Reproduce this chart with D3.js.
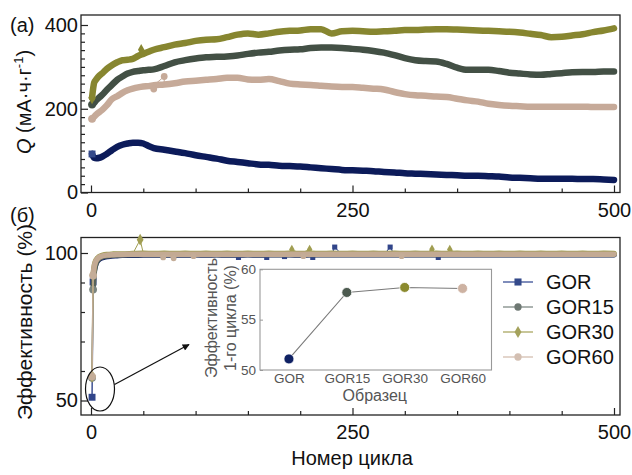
<!DOCTYPE html>
<html>
<head>
<meta charset="utf-8">
<script src="https://cdn.jsdelivr.net/npm/d3@7"></script>
<style>
  body { margin: 0; background: #fff; }
  svg { display: block; font-family: "Liberation Sans", Arial, sans-serif; }
</style>
</head>
<body>
<svg id="chart" width="632" height="475"></svg>
<script>
// ---- Capacity vs. cycle, mA·h·g⁻¹ ----
const cyclesQ = [1, 3, 5, 8, 11, 15, 20, 25, 30, 35, 40, 45, 50, 55,
  60, 70, 80, 90, 100, 110, 120, 130, 140, 150, 160, 170, 180, 190, 200,
  210, 220, 230, 240, 250, 260, 270, 280, 290, 300, 310, 320, 330, 340, 350,
  360, 370, 380, 390, 400, 410, 420, 430, 440, 450, 460, 470, 480, 490, 500];

const gorQ = [92, 83, 82, 83, 86, 92, 101, 109, 114, 117, 119, 119, 117, 111,
  106, 102, 98, 94, 89, 85, 81, 76, 73, 70, 67, 66, 64, 63, 62,
  60, 58, 56, 54, 53, 52, 51, 49, 48, 46, 45, 44, 43, 42, 41,
  40, 40, 39, 38, 36, 35, 34, 33, 33, 33, 33, 32, 32, 31, 30];

const gor15Q = [210, 214, 220, 227, 234, 245, 257, 269, 277, 284, 288, 290, 292, 293,
  294, 302, 311, 316, 320, 323, 324, 325, 327, 331, 334, 336, 339, 341, 342,
  345, 346, 346, 345, 343, 341, 338, 334, 328, 321, 316, 314, 313, 307, 298,
  293, 293, 293, 290, 286, 284, 282, 281, 283, 285, 287, 288, 288, 289, 289];

const gor30Q = [226, 262, 270, 279, 285, 295, 304, 311, 316, 317, 319, 326, 331, 336,
  341, 347, 353, 357, 362, 365, 366, 371, 377, 380, 377, 380, 384, 386, 387,
  390, 390, 380, 385, 386, 385, 384, 385, 386, 388, 388, 389, 390, 390, 389,
  388, 387, 386, 385, 384, 382, 379, 376, 371, 372, 375, 378, 383, 387, 392];

const gor60Q = [176, 181, 186, 192, 198, 208, 223, 230, 238, 244, 248, 251, 253, 254,
  256, 258, 261, 265, 267, 269, 271, 274, 274, 270, 269, 271, 266, 260, 258,
  257, 255, 253, 252, 252, 250, 248, 246, 240, 235, 232, 231, 229, 228, 224,
  220, 217, 212, 209, 207, 206, 205, 205, 205, 205, 205, 205, 204, 204, 204];

// stray capacity points off the main trend: [cycle, value]
const gor30QStray = [[48, 341]];
const gor60QStray = [[60, 247], [70, 277]];

// ---- Coulombic efficiency vs. cycle, % ----
const cyclesEff = [1, 2, 3, 4, 5, 6, 8, 10, 13, 16, 20, 25, 30,
  40, 50, 60, 70, 80, 90, 100, 110, 120, 130, 140, 150, 160, 170, 180, 190, 200,
  210, 220, 230, 240, 250, 260, 270, 280, 290, 300, 310, 320, 330, 340, 350,
  360, 370, 380, 390, 400, 410, 420, 430, 440, 450, 460, 470, 480, 490, 500];

const gorEff = [51.1, 90.2, 93.6, 95.4, 96.5, 97.2, 97.9, 98.3, 98.6, 98.8, 99.0, 99.1, 99.2,
  99.2, 99.3, 99.3, 99.3, 99.3, 99.3, 99.4, 99.3, 99.4, 99.3, 99.3, 99.4, 99.3, 99.4, 99.4, 99.4, 99.3,
  99.4, 99.4, 99.4, 99.4, 99.4, 99.4, 99.4, 99.4, 99.4, 99.4, 99.4, 99.4, 99.4, 99.4, 99.4,
  99.4, 99.4, 99.4, 99.4, 99.4, 99.4, 99.4, 99.4, 99.4, 99.4, 99.4, 99.4, 99.4, 99.4, 99.4];

const gor15Eff = [57.7, 87.6, 93.0, 95.4, 96.7, 97.4, 98.2, 98.6, 98.9, 99.1, 99.2, 99.3, 99.4,
  99.5, 99.5, 99.5, 99.5, 99.5, 99.5, 99.5, 99.5, 99.5, 99.5, 99.5, 99.5, 99.5, 99.5, 99.5, 99.5, 99.5,
  99.5, 99.5, 99.5, 99.5, 99.5, 99.5, 99.5, 99.5, 99.5, 99.5, 99.5, 99.5, 99.5, 99.5, 99.5,
  99.5, 99.5, 99.5, 99.5, 99.5, 99.5, 99.5, 99.5, 99.5, 99.5, 99.5, 99.5, 99.5, 99.5, 99.5];

const gor30Eff = [58.2, 92.5, 95.4, 96.9, 97.7, 98.2, 98.8, 99.1, 99.4, 99.5, 99.6, 99.7, 99.7,
  99.8, 99.9, 99.8, 99.9, 99.8, 99.9, 99.8, 99.9, 99.8, 99.9, 99.8, 99.9, 99.8, 99.9, 99.8, 99.9, 99.8,
  99.9, 99.8, 99.9, 99.8, 99.9, 99.8, 99.9, 99.8, 99.9, 99.8, 99.9, 99.8, 99.9, 99.8, 99.9,
  99.8, 99.9, 99.8, 99.9, 99.8, 99.9, 99.8, 99.9, 99.8, 99.9, 99.8, 99.9, 99.8, 99.9, 99.8];

const gor60Eff = [58.1, 92.4, 95.2, 96.7, 97.5, 98.0, 98.6, 98.9, 99.2, 99.3, 99.4, 99.5, 99.5,
  99.6, 99.6, 99.6, 99.6, 99.6, 99.6, 99.6, 99.6, 99.6, 99.6, 99.6, 99.6, 99.6, 99.6, 99.6, 99.6, 99.6,
  99.6, 99.6, 99.6, 99.6, 99.6, 99.6, 99.6, 99.6, 99.6, 99.6, 99.6, 99.6, 99.6, 99.6, 99.6,
  99.6, 99.6, 99.6, 99.6, 99.6, 99.6, 99.6, 99.6, 99.6, 99.6, 99.6, 99.6, 99.6, 99.6, 99.6];

const gorEffStray = [[141, 98.5], [168, 98.5], [185, 98.8], [212, 98.5], [233, 102.0], [286, 102.0], [332, 98.5]];
const gor15EffStray = [];
const gor30EffStray = [[47, 104.5], [192, 101.2], [209, 101.2], [326, 101.3], [343, 101.2]];
const gor60EffStray = [[69, 98.5], [79, 98.2], [98, 98.9], [203, 98.9], [297, 98.9]];

// ---- First-cycle efficiency per sample (inset) ----
const samples = ["GOR", "GOR15", "GOR30", "GOR60"];
const firstCycleEff = [51.1, 57.7, 58.2, 58.1];

// ---- tick values ----
const xMajor = [0, 250, 500];
const xMinor = [50, 100, 150, 200, 300, 350, 400, 450];
const qMajor = [0, 200, 400];
const qMinor = d3.range(20, 400, 20).filter(v => v % 200 !== 0);
const effMajor = [50, 100];
const effMinor = [60, 70, 80, 90];
const insetTicks = [50, 55, 60];

// ---- series styling ----
const series = [
  { name: "GOR",   symbol: d3.symbolSquare,  q: gorQ,   qStray: [],          eff: gorEff,   effStray: gorEffStray,
    qColor: "#0c1b5a", effColor: "#31458a", bandColor: "#1c2c6c", legLine: "#7180b4", legMark: "#34498a", inset: "#0f2163" },
  { name: "GOR15", symbol: d3.symbolCircle,  q: gor15Q, qStray: [],          eff: gor15Eff, effStray: gor15EffStray,
    qColor: "#435045", effColor: "#7a847f", bandColor: "#56625a", legLine: "#a3aba7", legMark: "#6e7873", inset: "#4c5a4f" },
  { name: "GOR30", symbol: d3.symbolDiamond, q: gor30Q, qStray: gor30QStray, eff: gor30Eff, effStray: gor30EffStray,
    qColor: "#878630", effColor: "#a19e52", bandColor: "#9c9a4c", legLine: "#c2c08e", legMark: "#a4a25c", inset: "#8b8a2e" },
  { name: "GOR60", symbol: d3.symbolCircle,  q: gor60Q, qStray: gor60QStray, eff: gor60Eff, effStray: gor60EffStray,
    qColor: "#c6aa99", effColor: "#c4ad98", bandColor: "#c3aa93", legLine: "#e0d1c7", legMark: "#d3bfb2", inset: "#cdb2a2" }
];

const svg = d3.select("#chart");
const frameL = 81, frameR = 620;
const FONT = '"Liberation Sans", Arial, sans-serif';

const x = d3.scaleLinear().domain([0, 500]).range([91, 614]);
const yQ = d3.scaleLinear().domain([0, 400]).range([192.5, 25]);
const yE = d3.scaleLinear().domain([50, 100]).range([400.5, 253]);

// frame, ticks and tick labels of one panel
function panelAxes(y, top, bottom, yMaj, yMin) {
  const g = svg.append("g");
  const styleAxis = sel => {
    sel.select(".domain").remove();
    sel.selectAll("line").attr("stroke", "#222").attr("stroke-width", 1.2);
    sel.selectAll("text").attr("font-size", 20).attr("fill", "#111").attr("font-family", FONT);
  };
  g.append("g").attr("transform", `translate(0,${bottom})`)
    .call(d3.axisBottom(x).tickValues(xMinor).tickSize(-4).tickFormat("")).call(styleAxis);
  g.append("g").attr("transform", `translate(0,${bottom})`)
    .call(d3.axisBottom(x).tickValues(xMajor).tickSize(-7).tickPadding(10).tickFormat(d3.format("d"))).call(styleAxis);
  g.append("g").attr("transform", `translate(${frameL},0)`)
    .call(d3.axisLeft(y).tickValues(yMin).tickSize(-4).tickFormat("")).call(styleAxis);
  g.append("g").attr("transform", `translate(${frameL},0)`)
    .call(d3.axisLeft(y).tickValues(yMaj).tickSize(-7).tickPadding(3).tickFormat(d3.format("d"))).call(styleAxis);
  g.append("rect").attr("x", frameL).attr("y", top)
    .attr("width", frameR - frameL).attr("height", bottom - top)
    .attr("fill", "none").attr("stroke", "#222").attr("stroke-width", 1.3);
}

panelAxes(yQ, 15, 192.5, qMajor, qMinor);
panelAxes(yE, 237.5, 415, effMajor, effMinor);

// ---- top panel: capacity bands ----
const gTop = svg.append("g");
series.forEach(s => {
  const pts = cyclesQ.map((c, i) => [c, s.q[i]]);
  gTop.append("path")
    .attr("d", d3.line().x(d => x(d[0])).y(d => yQ(d[1])).curve(d3.curveMonotoneX)(pts))
    .attr("fill", "none").attr("stroke", s.qColor).attr("stroke-width", 6.5)
    .attr("stroke-linecap", "round").attr("stroke-linejoin", "round");
  // stray points joined to their neighbours by a thin line
  s.qStray.forEach(([c, v]) => {
    const k = d3.bisectLeft(cyclesQ, c);
    const a = [cyclesQ[k - 1], s.q[k - 1]], b = [cyclesQ[k], s.q[k]];
    gTop.append("path")
      .attr("d", d3.line().x(d => x(d[0])).y(d => yQ(d[1]))([a, [c, v], b]))
      .attr("fill", "none").attr("stroke", s.qColor).attr("stroke-width", 1);
    gTop.append("path")
      .attr("transform", `translate(${x(c)},${yQ(v)})`)
      .attr("d", d3.symbol(s.symbol, 36)()).attr("fill", s.qColor);
  });
  // first cycle marker
  gTop.append("path")
    .attr("transform", `translate(${x(cyclesQ[0])},${yQ(s.q[0])})`)
    .attr("d", d3.symbol(s.symbol, 48)()).attr("fill", s.name === "GOR" ? "#34498a" : s.qColor);
});

// ---- bottom panel: efficiency bands ----
const gBot = svg.append("g");
series.forEach(s => {
  const pts = cyclesEff.map((c, i) => [c, s.eff[i]]);
  const line = d3.line().x(d => x(d[0])).y(d => yE(d[1]));
  // thin connection through every cycle
  gBot.append("path").attr("d", line(pts))
    .attr("fill", "none").attr("stroke", s.effColor).attr("stroke-width", 1.4);
  // dense markers from cycle 2 onward form a thick band
  gBot.append("path").attr("d", line.curve(d3.curveMonotoneX)(pts.slice(1)))
    .attr("fill", "none").attr("stroke", s.bandColor).attr("stroke-width", 5.5)
    .attr("stroke-linecap", "round").attr("stroke-linejoin", "round");
  s.effStray.forEach(([c, v]) => {
    const k = d3.bisectLeft(cyclesEff, c);
    const a = [cyclesEff[k - 1], s.eff[k - 1]], b = [cyclesEff[k], s.eff[k]];
    gBot.append("path")
      .attr("d", d3.line().x(d => x(d[0])).y(d => yE(d[1]))([a, [c, v], b]))
      .attr("fill", "none").attr("stroke", s.effColor).attr("stroke-width", 1);
    gBot.append("path")
      .attr("transform", `translate(${x(c)},${yE(v)})`)
      .attr("d", d3.symbol(s.symbol, c === 47 ? 40 : 26)()).attr("fill", s.effColor);
  });
  // markers for the first two cycles
  pts.slice(0, 2).forEach(p => {
    gBot.append("path")
      .attr("transform", `translate(${x(p[0])},${yE(p[1])})`)
      .attr("d", d3.symbol(s.symbol, 48)()).attr("fill", s.effColor);
  });
});

// ---- callout ellipse and arrow ----
const defs = svg.append("defs");
defs.append("marker").attr("id", "arrowHead")
  .attr("viewBox", "0 0 10 10").attr("refX", 9).attr("refY", 5)
  .attr("markerWidth", 9).attr("markerHeight", 7).attr("markerUnits", "userSpaceOnUse")
  .attr("orient", "auto")
  .append("path").attr("d", "M0,0 L10,5 L0,10 z").attr("fill", "#111");
svg.append("ellipse").attr("cx", 100).attr("cy", 389).attr("rx", 14.5).attr("ry", 22)
  .attr("fill", "none").attr("stroke", "#111").attr("stroke-width", 1.2);
svg.append("line").attr("x1", 114.5).attr("y1", 384.5).attr("x2", 189).attr("y2", 344.5)
  .attr("stroke", "#111").attr("stroke-width", 1.2).attr("marker-end", "url(#arrowHead)");

// ---- inset: first-cycle efficiency ----
const inL = 260, inR = 491.5, inT = 269.3, inB = 370;
const xi = d3.scalePoint().domain(samples).range([inL, inR]).padding(0.5);
const yi = d3.scaleLinear().domain([50, 60]).range([inB, inT]);
const gIn = svg.append("g");
gIn.append("rect").attr("x", inL).attr("y", inT).attr("width", inR - inL).attr("height", inB - inT)
  .attr("fill", "#fff").attr("stroke", "#999").attr("stroke-width", 1.1);
const inAxisY = gIn.append("g").attr("transform", `translate(${inL},0)`)
  .call(d3.axisLeft(yi).tickValues(insetTicks).tickSize(-3).tickPadding(4));
const inAxisX = gIn.append("g").attr("transform", `translate(0,${inB})`)
  .call(d3.axisBottom(xi).tickSize(0).tickPadding(3));
[inAxisY, inAxisX].forEach(a => {
  a.select(".domain").remove();
  a.selectAll("line").attr("stroke", "#999");
  a.selectAll("text").attr("font-size", 13.5).attr("fill", "#555").attr("font-family", FONT);
});
gIn.append("path")
  .attr("d", d3.line().x((d, i) => xi(samples[i])).y(d => yi(d))(firstCycleEff))
  .attr("fill", "none").attr("stroke", "#7a7a7a").attr("stroke-width", 1.1);
firstCycleEff.forEach((v, i) => {
  gIn.append("circle").attr("cx", xi(samples[i])).attr("cy", yi(v)).attr("r", 5)
    .attr("fill", series[i].inset).attr("stroke", "#fff").attr("stroke-width", 0.8);
});
gIn.append("text").attr("x", (inL + inR) / 2 - 1).attr("y", 401)
  .attr("text-anchor", "middle").attr("font-size", 16).attr("fill", "#555").text("Образец");
const inTitle = gIn.append("text").attr("transform", "translate(0,318) rotate(-90)")
  .attr("text-anchor", "middle").attr("font-size", 16).attr("fill", "#555");
inTitle.append("tspan").attr("x", 0).attr("y", 217).text("Эффективность");
inTitle.append("tspan").attr("x", 0).attr("y", 236).text("1-го цикла (%)");

// ---- legend ----
const gLeg = svg.append("g");
series.forEach((s, i) => {
  const yy = 282 + i * 25;
  gLeg.append("line").attr("x1", 503).attr("x2", 533).attr("y1", yy).attr("y2", yy)
    .attr("stroke", s.legLine).attr("stroke-width", 1.8);
  gLeg.append("path").attr("transform", `translate(518,${yy})`)
    .attr("d", d3.symbol(s.symbol, s.symbol === d3.symbolSquare ? 50 : 42)()).attr("fill", s.legMark);
  gLeg.append("text").attr("x", 546).attr("y", yy + 7).attr("font-size", 20).attr("fill", "#111").text(s.name);
});

// ---- panel letters and axis titles ----
svg.append("text").attr("x", 10).attr("y", 32).attr("font-size", 20).attr("fill", "#111").text("(a)");
svg.append("text").attr("x", 10).attr("y", 222).attr("font-size", 20).attr("fill", "#111").text("(б)");

const qTitle = svg.append("text").attr("transform", "translate(31,102) rotate(-90)")
  .attr("text-anchor", "middle").attr("font-size", 20).attr("fill", "#111");
qTitle.append("tspan").attr("font-style", "italic").text("Q");
qTitle.append("tspan").text(" (мА·ч·г");
qTitle.append("tspan").attr("font-size", 13).attr("dy", -8).text("-1");
qTitle.append("tspan").attr("dy", 8).text(")");

svg.append("text").attr("transform", "translate(32,322) rotate(-90)")
  .attr("text-anchor", "middle").attr("font-size", 21).attr("fill", "#111").text("Эффективность (%)");
svg.append("text").attr("x", 352).attr("y", 465)
  .attr("text-anchor", "middle").attr("font-size", 20).attr("fill", "#111").text("Номер цикла");
</script>
</body>
</html>
